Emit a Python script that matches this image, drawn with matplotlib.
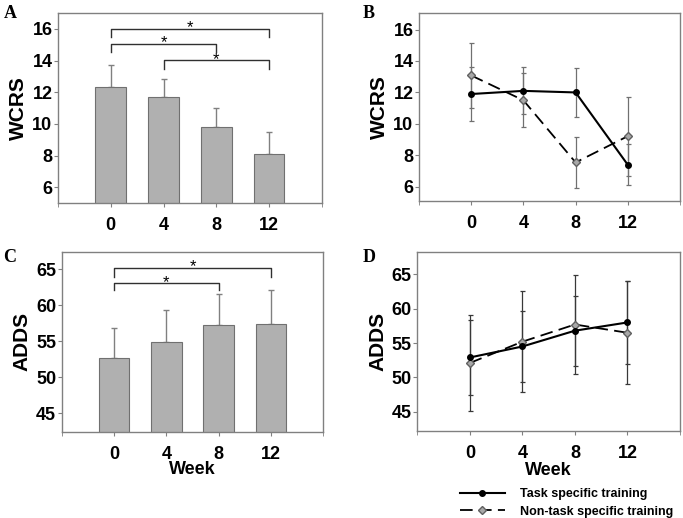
import matplotlib.pyplot as plt
import numpy as np

plt.rcParams['font.family'] = ['Liberation Sans', 'DejaVu Sans']

weeks = ['0', '4', '8', '12']

# panel A: WCRS means, upper SD
wcrs_mean = [12.35, 11.7, 9.77, 8.1]
wcrs_sd = [1.35, 1.14, 1.2, 1.4]
# panel B: WCRS per group
wcrs_task = [11.9, 12.1, 12.0, 7.4]
wcrs_task_sd = [1.72, 1.49, 1.53, 1.31]
wcrs_non = [13.08, 11.5, 7.55, 9.22]
wcrs_non_sd = [2.08, 1.72, 1.6, 2.5]
# panel C: ADDS means, upper SD
adds_mean = [52.6, 54.9, 57.3, 57.4]
adds_sd = [4.3, 4.4, 4.3, 4.7]
# panel D: ADDS per group
adds_task = [52.9, 54.5, 56.8, 58.0]
adds_task_sd = [5.44, 5.17, 5.12, 6.1]
adds_non = [52.1, 55.2, 57.7, 56.5]
adds_non_sd = [7.0, 7.38, 7.23, 7.48]

# significance brackets (i, j, y, drop)
sig_a = [(0, 3, 16.0, 0.5), (0, 2, 15.07, 0.55), (1, 3, 14.02, 0.55)]
sig_c = [(0, 3, 65.2, 1.3), (0, 2, 63.05, 0.9)]

spine_col = '#808080'
bar_col = '#b0b0b0'

fig = plt.figure(figsize=(6.83, 5.18), dpi=100)
axA = fig.add_axes([0.0849, 0.6081, 0.3865, 0.3668])
axB = fig.add_axes([0.6135, 0.612, 0.3821, 0.3629])
axC = fig.add_axes([0.0903, 0.1666, 0.3831, 0.3475])
axD = fig.add_axes([0.611, 0.168, 0.3846, 0.3461])

x = np.arange(len(weeks))


def style(ax, ylim, yticks, ylabel):
    ax.set_xlim(-1, 4)
    ax.set_ylim(*ylim)
    ax.set_yticks(yticks)
    ax.set_xticks(x)
    ax.set_xticklabels(weeks)
    ax.set_xticks([-1, 4], minor=True)
    for s in ax.spines.values():
        s.set_color(spine_col)
        s.set_linewidth(1.0)
    ax.tick_params(axis='y', length=3, color=spine_col, labelsize=13, pad=1)
    ax.tick_params(axis='x', which='both', length=3, color=spine_col, labelsize=13, pad=7)
    for lab in ax.get_xticklabels() + ax.get_yticklabels():
        lab.set_fontweight('bold')
    ax.set_ylabel(ylabel, fontsize=15, fontweight='bold', labelpad=3)


def bars(ax, mean, sd):
    ax.bar(x, mean, width=0.58, color=bar_col, edgecolor='#707070', linewidth=0.8, zorder=2)
    ax.errorbar(x, mean, yerr=[np.zeros(len(sd)), sd], fmt='none', ecolor='#808080',
                elinewidth=1.0, capsize=2, capthick=1.0, zorder=1)


def brackets(ax, sigs):
    for i, j, y, d in sigs:
        ax.plot([i, i, j, j], [y - d, y, y, y - d], color='#303030', lw=1.0)
        ax.annotate('*', ((i + j) / 2, y), xytext=(0, -2.5), textcoords='offset points',
                    ha='center', va='baseline', fontsize=12)


def lines(ax, task, task_sd, non, non_sd, ecol):
    ax.errorbar(x, task, yerr=task_sd, fmt='none', ecolor=ecol, elinewidth=0.9,
                capsize=1.8, capthick=0.9, zorder=1)
    ax.errorbar(x, non, yerr=non_sd, fmt='none', ecolor=ecol, elinewidth=0.9,
                capsize=1.8, capthick=0.9, zorder=1)
    ax.plot(x, non, color='black', lw=1.3, ls=(0, (7, 3.5)), marker='D', ms=4.2,
            mfc='#a8a8a8', mec='#606060', zorder=3, label='Non-task specific training')
    ax.plot(x, task, color='black', lw=1.5, marker='o', ms=4, mfc='black', mec='black',
            zorder=4, label='Task specific training')


bars(axA, wcrs_mean, wcrs_sd)
brackets(axA, sig_a)
style(axA, (5, 17), [6, 8, 10, 12, 14, 16], 'WCRS')

lines(axB, wcrs_task, wcrs_task_sd, wcrs_non, wcrs_non_sd, '#707070')
style(axB, (5.1, 17.05), [6, 8, 10, 12, 14, 16], 'WCRS')

bars(axC, adds_mean, adds_sd)
brackets(axC, sig_c)
style(axC, (42.4, 67.45), [45, 50, 55, 60, 65], 'ADDS')
axC.set_xlabel('Week', fontsize=13, fontweight='bold', labelpad=-1)

lines(axD, adds_task, adds_task_sd, adds_non, adds_non_sd, '#383838')
style(axD, (42.2, 68.3), [45, 50, 55, 60, 65], 'ADDS')
axD.set_xlabel('Week', fontsize=13, fontweight='bold', labelpad=0)

h, l = axD.get_legend_handles_labels()
leg = fig.legend(h[::-1], l[::-1], loc='upper left', bbox_to_anchor=(0.664, 0.07),
                 frameon=False, prop={'size': 9, 'weight': 'bold'}, handlelength=3.6,
                 labelspacing=0.45, borderpad=0, handletextpad=1.2)

for lab, xx, yy in [('A', 0.005, 0.99), ('B', 0.531, 0.99), ('C', 0.005, 0.52), ('D', 0.531, 0.52)]:
    fig.text(xx, yy, lab, fontsize=13, fontweight='bold', family='Liberation Serif', va='top')

fig.savefig('out.png', dpi=100)
